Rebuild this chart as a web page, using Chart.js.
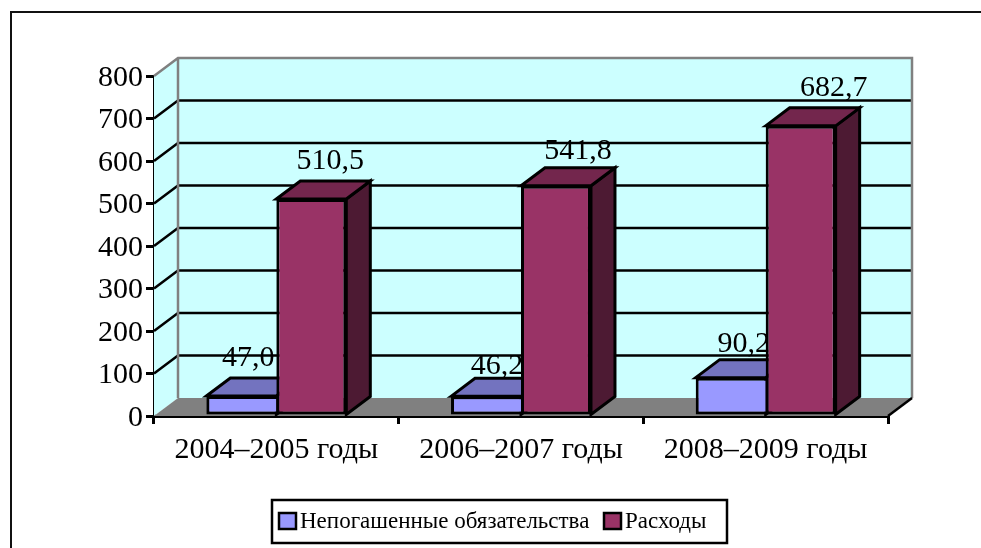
<!DOCTYPE html>
<html>
<head>
<meta charset="utf-8">
<style>
html, body { margin: 0; padding: 0; background: #fff; overflow: hidden; }
canvas { display: block; }
</style>
<script src="https://cdn.jsdelivr.net/npm/chart.js@4/dist/chart.umd.js"></script>
</head>
<body>
<canvas id="barChart" width="981" height="548"></canvas>
<script>
const categories = ['2004–2005 годы', '2006–2007 годы', '2008–2009 годы'];
const debts = [47.0, 46.2, 90.2];
const expenses = [510.5, 541.8, 682.7];
const seriesNames = ['Непогашенные обязательства', 'Расходы'];

const FONT = '"Liberation Serif", "Times New Roman", serif';
const DEPTH_X = 24;
const DEPTH_Y = -18;

// hand placement of the value labels, [dx from bar centre, baseline above bar top]
const labelShift = [
    [[7, 30], [11, 22], [13, 26]],
    [[19, 30], [22, 27], [33, 30]]
];

// faces: front colour comes from the dataset, top and side from here
const topColors = ['#7373BF', '#73264D'];
const sideColors = ['#5C5C99', '#4D1A33'];

function poly(ctx, pts, fill, stroke, width) {
    ctx.beginPath();
    pts.forEach((p, i) => i ? ctx.lineTo(p[0], p[1]) : ctx.moveTo(p[0], p[1]));
    ctx.closePath();
    if (fill) { ctx.fillStyle = fill; ctx.fill(); }
    if (stroke) { ctx.strokeStyle = stroke; ctx.lineWidth = width; ctx.lineJoin = 'miter'; ctx.stroke(); }
}

const box3d = {
    id: 'box3d',
    beforeDraw(chart) {
        const ctx = chart.ctx;
        ctx.save();
        ctx.fillStyle = '#fff';
        ctx.fillRect(0, 0, chart.width, chart.height);
        // outer frame, runs off the right and bottom of the image
        ctx.strokeStyle = '#111';
        ctx.lineWidth = 2;
        ctx.beginPath();
        ctx.moveTo(11, chart.height);
        ctx.lineTo(11, 12);
        ctx.lineTo(chart.width, 12);
        ctx.stroke();
        ctx.restore();
    },
    beforeDatasetsDraw(chart) {
        const ctx = chart.ctx;
        const a = chart.chartArea;
        const y = chart.scales.y;
        ctx.save();
        // walls
        poly(ctx, [[a.left, a.top], [a.left + DEPTH_X, a.top + DEPTH_Y], [a.left + DEPTH_X, a.bottom + DEPTH_Y], [a.left, a.bottom]], '#CCFFFF');
        poly(ctx, [[a.left + DEPTH_X, a.top + DEPTH_Y], [a.right + DEPTH_X, a.top + DEPTH_Y], [a.right + DEPTH_X, a.bottom + DEPTH_Y], [a.left + DEPTH_X, a.bottom + DEPTH_Y]], '#CCFFFF');
        // grid lines across side wall and back wall
        ctx.strokeStyle = '#000';
        ctx.lineWidth = 2.5;
        y.ticks.forEach(t => {
            if (t.value === 0 || t.value === y.max) return;
            const py = y.getPixelForValue(t.value);
            ctx.beginPath();
            ctx.moveTo(a.left, py);
            ctx.lineTo(a.left + DEPTH_X, py + DEPTH_Y);
            ctx.lineTo(a.right + DEPTH_X, py + DEPTH_Y);
            ctx.stroke();
        });
        // grey edges of the walls
        ctx.strokeStyle = '#808080';
        ctx.lineWidth = 2.5;
        ctx.beginPath();
        ctx.moveTo(a.left, a.top);
        ctx.lineTo(a.left + DEPTH_X, a.top + DEPTH_Y);
        ctx.lineTo(a.right + DEPTH_X, a.top + DEPTH_Y);
        ctx.lineTo(a.right + DEPTH_X, a.bottom + DEPTH_Y);
        ctx.moveTo(a.left + DEPTH_X, a.top + DEPTH_Y);
        ctx.lineTo(a.left + DEPTH_X, a.bottom + DEPTH_Y);
        ctx.stroke();
        // floor
        poly(ctx, [[a.left, a.bottom], [a.left + DEPTH_X, a.bottom + DEPTH_Y], [a.right + DEPTH_X, a.bottom + DEPTH_Y], [a.right, a.bottom]], '#808080');
        ctx.strokeStyle = '#000';
        ctx.beginPath();
        ctx.moveTo(a.right, a.bottom);
        ctx.lineTo(a.right + DEPTH_X, a.bottom + DEPTH_Y);
        ctx.stroke();

        // value labels go behind the bars, the neighbour bar cuts them off
        ctx.fillStyle = '#000';
        ctx.font = '30px ' + FONT;
        ctx.textAlign = 'center';
        ctx.textBaseline = 'alphabetic';
        chart.data.datasets.forEach((ds, d) => {
            chart.getDatasetMeta(d).data.forEach((bar, i) => {
                const text = ds.data[i].toFixed(1).replace('.', ',');
                ctx.fillText(text, bar.x + labelShift[d][i][0], bar.y - labelShift[d][i][1]);
            });
        });

        // top and side faces, the fronts are drawn by the library after this
        chart.data.datasets.forEach((ds, d) => {
            chart.getDatasetMeta(d).data.forEach(bar => {
                const l = bar.x - bar.width / 2;
                const r = bar.x + bar.width / 2;
                const t = bar.y;
                const b = bar.base;
                poly(ctx, [[r, t], [r + DEPTH_X, t + DEPTH_Y], [r + DEPTH_X, b + DEPTH_Y], [r, b]], sideColors[d], '#000', 3);
                poly(ctx, [[l, t], [l + DEPTH_X, t + DEPTH_Y], [r + DEPTH_X, t + DEPTH_Y], [r, t]], topColors[d], '#000', 3);
            });
        });
        ctx.restore();
    },
    afterDraw(chart) {
        const ctx = chart.ctx;
        ctx.save();
        // legend box
        ctx.fillStyle = '#fff';
        ctx.fillRect(272, 500, 455, 43);
        ctx.strokeStyle = '#000';
        ctx.lineWidth = 2.5;
        ctx.strokeRect(272, 500, 455, 43);
        ctx.font = '23px ' + FONT;
        ctx.textBaseline = 'alphabetic';
        ctx.textAlign = 'left';
        const swatchX = [279, 604];
        const textX = [300, 625];
        chart.data.datasets.forEach((ds, d) => {
            ctx.fillStyle = ds.backgroundColor;
            ctx.fillRect(swatchX[d], 513, 17, 16);
            ctx.strokeStyle = '#000';
            ctx.lineWidth = 2.5;
            ctx.strokeRect(swatchX[d], 513, 17, 16);
            ctx.fillStyle = '#000';
            ctx.fillText(seriesNames[d], textX[d], 528);
        });
        ctx.restore();
    }
};

new Chart(document.getElementById('barChart').getContext('2d'), {
    type: 'bar',
    data: {
        labels: categories,
        datasets: [
            {
                label: seriesNames[0], data: debts, backgroundColor: '#9999FF', borderColor: '#000',
                borderSkipped: false, borderWidth: { top: 3, left: 3, bottom: 3, right: 0 }
            },
            {
                label: seriesNames[1], data: expenses, backgroundColor: '#993366', borderColor: '#000',
                borderSkipped: false, borderWidth: 3
            }
        ]
    },
    plugins: [box3d],
    options: {
        responsive: false,
        animation: false,
        layout: { padding: { top: 76, right: 93, bottom: 0, left: 0 } },
        datasets: { bar: { barPercentage: 1, categoryPercentage: 0.572 } },
        plugins: { legend: { display: false }, tooltip: { enabled: false } },
        scales: {
            x: {
                afterFit(scale) { scale.height = 132; },
                grid: { drawOnChartArea: false, color: '#000', lineWidth: 3, tickLength: 8 },
                border: { color: '#000', width: 3 },
                ticks: { color: '#000', font: { family: FONT, size: 30 }, padding: 8, maxRotation: 0 }
            },
            y: {
                min: 0,
                max: 800,
                afterFit(scale) { scale.width = 154; },
                grid: { drawOnChartArea: false, color: '#000', lineWidth: 3, tickLength: 8 },
                border: { color: '#000', width: 3 },
                ticks: { stepSize: 100, color: '#000', font: { family: FONT, size: 30 }, padding: 3, labelOffset: 2 }
            }
        }
    }
});
</script>
</body>
</html>
